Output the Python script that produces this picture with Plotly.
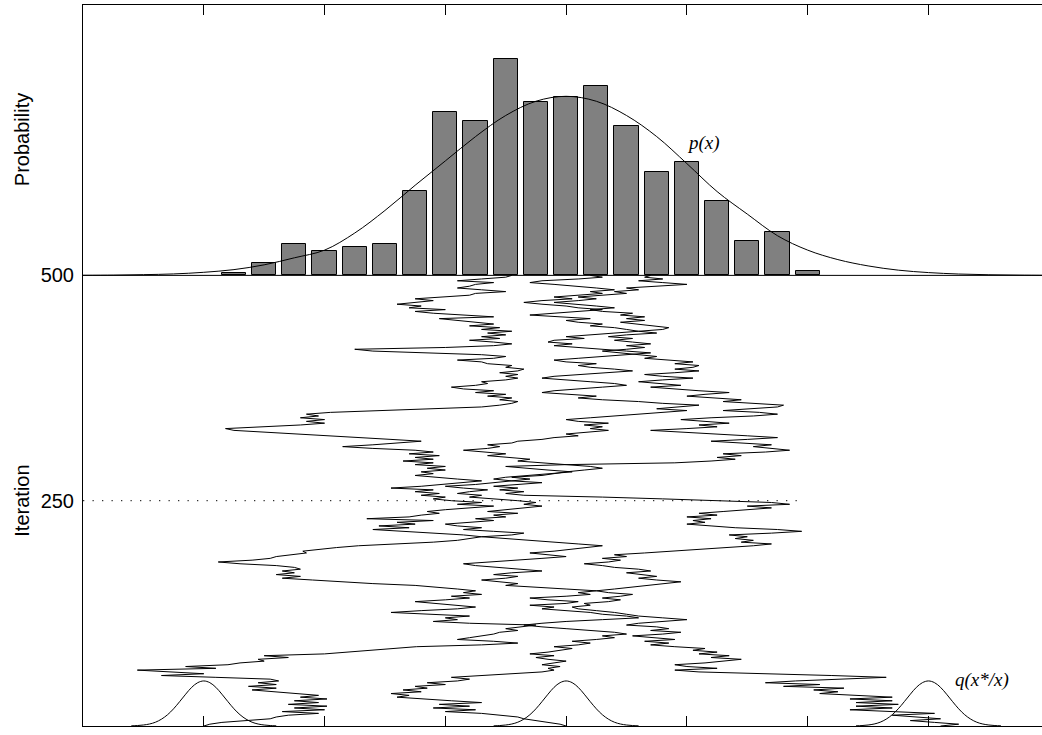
import plotly.graph_objects as go

# ---------------- data ----------------
# histogram (bar centres on x, bar heights above the 500-iteration baseline)
BIN_CENTERS = [-27.5, -25, -22.5, -20, -17.5, -15, -12.5, -10, -7.5, -5,
               -2.5, 0, 2.5, 5, 7.5, 10, 12.5, 15, 17.5, 20]
BIN_HEIGHTS = [3.1, 13.6, 34.7, 26.9, 32.0, 34.7, 93.6, 181.3, 170.9, 240.2,
               192.0, 197.6, 210.6, 165.8, 114.7, 125.3, 82.8, 37.6, 48.0, 5.3]
HIST_BASE = 500

# target density p(x) (height above baseline)
P_X = [-40, -37.5, -35, -32.5, -30, -27.5, -25, -22.5, -20, -17.5, -15, -12.5,
       -10, -7.5, -5, -2.5, 0, 2.5, 5, 7.5, 10, 12.5, 15, 17.5, 20, 22.5, 25,
       27.5, 30, 32.5, 35, 37.5, 40]
P_H = [0.1, 0.3, 0.8, 1.6, 3.4, 6.4, 11.7, 19.5, 28.0, 47.0, 72.0, 100.0,
       127.0, 154.0, 177.4, 193.2, 198.7, 193.2, 177.4, 154.0, 124.0, 93.0,
       68.0, 44.0, 28.0, 17.5, 10.5, 5.8, 3.1, 1.5, 0.7, 0.3, 0.1]

# proposal q(x*|x) bump, offsets and heights, drawn at three chain starts
Q_DX = [-6, -5.5, -5, -4.5, -4, -3.5, -3, -2.5, -2, -1.5, -1, -0.5, 0,
        0.5, 1, 1.5, 2, 2.5, 3, 3.5, 4, 4.5, 5, 5.5, 6]
Q_H = [0.2, 0.5, 1.1, 2.2, 4.2, 7.6, 12.5, 19.1, 27.0, 35.3, 42.9, 48.1, 50.0,
       48.1, 42.9, 35.3, 27.0, 19.1, 12.5, 7.6, 4.2, 2.2, 1.1, 0.5, 0.2]
Q_CENTERS = [-30, 0, 30]

# chain traces, one value every 2 iterations (0..500)
ITER_STEP = 2
CHAIN_A = [
    -30, -29.5, -28.5, -26, -24.5, -24, -23, -20.5, -23.5, -20,
    -22.5, -19.8, -23, -20.5, -22.5, -19.8, -22, -20.5, -22.5, -24.5,
    -26, -24, -26.3, -24, -25.5, -23.8, -24.5, -29, -33.5, -30,
    -33, -35.5, -29, -31.5, -28, -27, -25, -25.5, -23, -25,
    -20, -18.2, -16, -14.5, -12.4, -7, -4, -6, -9, -8,
    -7, -6, -5.5, -4, -5, -3.5, -2.5, -8, -11, -9,
    -10, -8, -12, -14.5, -12, -9, -7.5, -9, -11, -12.5,
    -10, -8, -9.5, -7, -8.5, -7.5, -9, -11, -12.5, -16,
    -19, -21, -23.5, -22, -24, -22.5, -23.5, -22, -22.5, -24,
    -27, -28.8, -26, -24.5, -24, -22.5, -21.5, -21.8, -20.5, -19,
    -17.2, -14, -11, -9, -8, -7, -8.5, -11, -14, -16,
    -13, -15.5, -12.5, -14, -11, -16.5, -13, -12, -10.5, -11.5,
    -10, -8, -6, -9, -7, -9.5, -11, -10, -12, -10.5,
    -12.5, -11, -14.5, -12, -10.5, -8.5, -7, -9, -11, -12.5,
    -11, -12, -10, -11.5, -10, -12.5, -11, -13.5, -11, -12.5,
    -10.5, -13, -11, -12.5, -16, -18.5, -16, -14, -12, -14.5,
    -17, -19.5, -22, -25, -27.5, -28.2, -25, -22, -20, -21.5,
    -20, -22, -20.5, -21.5, -19.5, -15, -11, -7, -5.5, -4.5,
    -4, -5.5, -4.5, -6.5, -5, -7.5, -6, -8.5, -9.5, -7.5,
    -6.5, -7, -5, -4, -5, -4, -5.5, -4, -3.5, -5,
    -4.5, -6.5, -7, -9, -6, -5, -7, -12, -16, -17.5,
    -10, -6, -4.5, -6, -8, -5.5, -7, -5, -6.5, -4.5,
    -7, -5.5, -8, -6, -7.5, -9, -10.5, -6, -9, -11,
    -12.5, -10, -13, -12, -14, -12.5, -11, -12.5, -10, -8,
    -7.5, -5, -7, -9, -8, -7.5, -6, -9, -7, -5,
    -4.5]
CHAIN_B = [
    0, -0.5, -1.5, -2.5, -3.5, -4, -5.5, -7, -10, -7.5,
    -11, -8, -10.5, -7, -9.5, -12, -14, -13, -14.5, -12,
    -13.5, -11.5, -12.5, -10, -11.5, -9, -8, -9.5, -7, -5,
    -2, -1, -1.5, -0.5, -2, -1, 0, -1.5, -2.5, -1,
    -3, -1.5, -0.5, 0.5, -1, 1, 2, 0.5, 2.5, 4,
    3, 5, 4, 1.5, 0, -2, -3.5, -2, 0, 3,
    6, 5, 3, 2, 0, -2, -1, -3, 0, 1,
    -1.5, -3, 0, 2, 1, 2.5, 0, -3, -5, -4,
    -5.5, -7, -5, -4, -6, -4.5, -2, -4, -6, -7.5,
    -8.5, -6, -4, -2, 0, -1.5, -3, -1, 0.5, 2,
    3, 1, -1, -3, -5, -7, -4.5, -3.5, -6, -8.5,
    -7, -9, -10, -8, -6, -7.5, -5, -6, -4, -6.5,
    -5, -3, -2, -3.5, -2.5, -4, -6, -8, -7, -9,
    -8, -6.5, -8.5, -10, -7.5, -6, -5, -3, -4.5, -2,
    -1, 0, 1.5, 3, 2, 0, -2, -4, -3, -5,
    -6.5, -5, -7, -8.5, -6.5, -5.5, -6.5, -4.5, -4, -2,
    -1, 1, 0, 2, 3.5, 2, 3, 1.5, 3.5, 1,
    0, 2, 4, 6, 8, 10, 7.5, 9, 11, 8,
    6, 3, 1, 2.5, 0, -2, -1, 1.5, 3, 5,
    4, 2, 0, -2, -1, 1.5, 3, 5.5, 4, 2,
    1, 2.5, 0, -1, 1, 3, 5, 7, 5, 3,
    1, -1, 0.5, -1.5, -1, 1.5, 0, 2, 4, 6,
    5, 4, 2, 3, 1, 0, 2, -1, -3, -1,
    1.5, 3, 1, 0, -2, -3.5, -2, 0.5, -1, 1,
    3, 2, 4, 2.5, 1, -1, -3, -2, 1, 3,
    2]
CHAIN_C = [
    31, 32.5, 30.5, 28.5, 31, 29, 27, 30.5, 26.5, 23.5,
    27, 24, 27.5, 24, 27, 23.5, 27, 24.5, 21, 22.5,
    20.5, 23, 18, 21, 16.5, 19, 22.5, 26.5, 22, 16,
    11, 9, 12.5, 10, 9, 11.5, 13, 14.5, 12, 13.5,
    11, 12.5, 10.5, 11.5, 9, 7, 8.5, 6.5, 9, 7,
    5.5, 8, 9.5, 7, 8.5, 7.5, 5, 6, 8.5, 10,
    8, 6, 5, 4, 2.5, 1, 0.5, 2, 1.5, 3.5,
    4.5, 3, 4.5, 5.5, 3.5, 2.5, 4, 5.5, 7, 8.5,
    9.5, 7.5, 6, 7.5, 6, 5, 7, 6, 4, 3,
    1.5, 3.5, 4.5, 3, 5, 4, 6.5, 9, 10.5, 13,
    15.5, 17, 14.5, 15.5, 14, 15, 13.5, 17, 19.5, 17.5,
    14, 12, 10, 11.5, 10.5, 12, 10, 12.5, 11, 13,
    15.5, 17, 15, 18.5, 17, 13, 8, 3, -3.5, -5,
    -3.5, -5.5, -4, -6, -3.5, -2, -4.5, -6, -5, -3,
    -1, 0.5, -1.5, -3, -5, 0, 9, 12, 14, 12.5,
    14.5, 13, 16.5, 18.5, 17, 15.5, 17, 14, 12, 15,
    17.5, 15, 12, 9, 7, 10, 12.5, 11, 13.5, 11.5,
    9.5, 12, 15.5, 17.5, 16, 13, 15, 17.5, 18, 15.5,
    13, 14.5, 12, 10, 11.5, 13.5, 11, 9, 7, 9.5,
    7.5, 6, 8, 10.5, 8, 6.5, 9, 11, 9, 10.5,
    11, 9, 10.5, 8, 6.5, 7.5, 6, 4.5, 3, 5,
    6.5, 5, 7, 5.5, 4, 5.5, 3.5, 5, 7.5, 6,
    8, 8.5, 7, 6, 4.5, 6.5, 5, 6.5, 4.5, 5.5,
    3, 2, 4, 2.5, 1, -1, 1, 2.5, 1, 3.5,
    5, 4, 6, 5, 7.5, 10, 8, 6, 8, 6.5,
    7]

X_TICKS = [-30, -20, -10, 0, 10, 20, 30]
Y_TICKS = [0, 250, 500]
Y_TICK_TEXT = ["0", "250", "500"]
BURN_IN = 250

# ---------------- figure ----------------
fig = go.Figure()

black_line = dict(color="black", width=1)

# baseline of histogram
fig.add_trace(go.Scatter(x=[-40, 40], y=[HIST_BASE, HIST_BASE], mode="lines",
                         line=black_line, hoverinfo="skip"))

# histogram bars
fig.add_trace(go.Bar(x=BIN_CENTERS, y=BIN_HEIGHTS, base=HIST_BASE, width=2.0,
                     marker=dict(color="#808080",
                                 line=dict(color="black", width=1))))

# p(x)
fig.add_trace(go.Scatter(x=P_X, y=[HIST_BASE + h for h in P_H], mode="lines",
                         line=dict(color="black", width=1, shape="spline"),
                         hoverinfo="skip"))

# dotted line at 250 iterations
fig.add_trace(go.Scatter(x=[-40, 19.5], y=[BURN_IN, BURN_IN], mode="lines",
                         line=dict(color="black", width=1, dash="1.3px,8.2px"),
                         hoverinfo="skip"))

# chains
for chain in (CHAIN_A, CHAIN_B, CHAIN_C):
    iters = [i * ITER_STEP for i in range(len(chain))]
    fig.add_trace(go.Scatter(x=chain, y=iters, mode="lines",
                             line=dict(color="black", width=1),
                             hoverinfo="skip"))

# proposal bumps
for c in Q_CENTERS:
    fig.add_trace(go.Scatter(x=[c + d for d in Q_DX], y=Q_H, mode="lines",
                             line=dict(color="black", width=1, shape="spline"),
                             hoverinfo="skip"))

fig.add_annotation(x=11.4, y=647, xref="x", yref="y", text="<i>p(x)</i>",
                   showarrow=False,
                   font=dict(family="Liberation Serif", size=19, color="black"))
fig.add_annotation(x=34.4, y=51, xref="x", yref="y", text="<i>q(x*/x)</i>",
                   showarrow=False,
                   font=dict(family="Liberation Serif", size=19, color="black"))
fig.add_annotation(x=0, y=650, xref="paper", yref="y", xshift=-61,
                   xanchor="center", yanchor="middle",
                   text="Probability", textangle=-90, showarrow=False,
                   font=dict(family="Liberation Sans", size=20, color="black"))
fig.add_annotation(x=0, y=250, xref="paper", yref="y", xshift=-61,
                   xanchor="center", yanchor="middle",
                   text="Iteration", textangle=-90, showarrow=False,
                   font=dict(family="Liberation Sans", size=20, color="black"))

fig.update_layout(
    width=1042, height=735,
    margin=dict(l=83, r=0, t=5, b=9),
    paper_bgcolor="white", plot_bgcolor="white",
    showlegend=False, hovermode=False, bargap=0,
    xaxis=dict(range=[-40, 39.4], showline=True, linecolor="black",
               linewidth=1, mirror="ticks", ticks="inside", ticklen=10,
               tickwidth=1, tickcolor="black", tickvals=X_TICKS,
               showticklabels=False, showgrid=False, zeroline=False),
    yaxis=dict(range=[0, 800], showline=True, linecolor="black", linewidth=1,
               mirror=False, ticks="", tickvals=Y_TICKS, ticktext=Y_TICK_TEXT,
               tickfont=dict(family="Liberation Sans", size=20, color="black"),
               ticklabelstandoff=4,
               showgrid=False, zeroline=False),
)

fig.write_html("out.html",
               config={"displayModeBar": False},
               post_script="document.body.style.margin='0';"
                           "document.body.style.overflow='hidden';")
